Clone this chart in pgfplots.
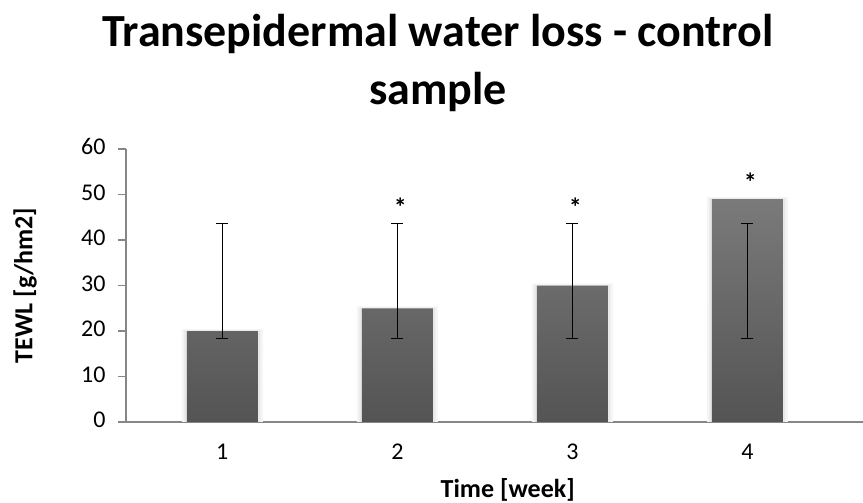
\documentclass[border=0pt]{standalone}
\usepackage{pgfplots}
\pgfplotsset{compat=1.18}
\usepackage{pgfplotstable}
\usepackage{fontspec}
\setmainfont{Carlito}

\definecolor{axisgray}{RGB}{134,134,134}
\definecolor{bartop}{RGB}{122,122,122}
\definecolor{barbot}{RGB}{84,84,84}

% week, mean TEWL
\pgfplotstableread{
week tewl
1 20
2 25
3 30
4 49
}\tewl

% error bars: every week spans 18.3 -- 43.6
\pgfplotstableread{
week mid err
1 30.95 12.65
2 30.95 12.65
3 30.95 12.65
4 30.95 12.65
}\errs

% significance marks
\pgfplotstableread{
week y
2 45.2
3 45.2
4 50.7
}\stars

\begin{document}
\begin{tikzpicture}
\begin{axis}[
    scale only axis,
    width=737pt, height=273pt,
    xmin=0.45, xmax=4.66,
    ymin=0, ymax=60,
    axis lines*=left,
    axis line style={axisgray, line width=1.5pt},
    xtick={1,2,3,4},
    ytick={0,10,...,60},
    tick align=outside,
    major tick length=8pt,
    ytick style={axisgray, line width=1.2pt},
    xtick style={draw=none},
    tick label style={font=\fontsize{24}{28}\selectfont},
    yticklabel style={xshift=-9pt},
    typeset ticklabels with strut,
    xticklabel style={yshift=-6pt},
    /pgf/number format/assume math mode=true,
    xlabel={Time [week]},
    ylabel={TEWL [g/hm2]},
    label style={font=\fontsize{26}{30}\selectfont\bfseries},
    xlabel style={at={(axis description cs:0.518,-0.276)}, anchor=base},
    ylabel style={at={(axis description cs:-0.137,0.5)}, anchor=center},
    clip=false,
]
% soft shadow behind the bars
\addplot[ybar, bar shift=0pt, bar width=81pt, fill=black!4, draw=none]
    table[x=week, y expr=\thisrow{tewl}+0.4] {\tewl};
\addplot[ybar, bar shift=0pt, bar width=76pt, fill=black!9, draw=none]
    table[x=week, y expr=\thisrow{tewl}+0.15] {\tewl};
\addplot[ybar, bar shift=0pt, bar width=71pt, draw=none,
    top color=bartop, bottom color=barbot]
    table[x=week, y=tewl] {\tewl};
\addplot[draw=none, mark=none,
    error bars/.cd, y dir=both, y explicit,
    error bar style={black, line width=1.2pt},
    error mark options={black, rotate=90, mark size=6pt, line width=1.2pt}]
    table[x=week, y=mid, y error=err] {\errs};
\addplot[draw=none, mark=none, nodes near coords={*},
    every node near coord/.style={anchor=base, inner sep=0pt, xshift=3pt,
        font=\fontsize{26}{30}\selectfont\bfseries}]
    table[x=week, y=y] {\stars};
\end{axis}
\node[font=\fontsize{46}{54}\selectfont\bfseries, anchor=base] at (312pt,375pt)
    {Transepidermal water loss - control};
\node[font=\fontsize{46}{54}\selectfont\bfseries, anchor=base] at (312pt,317pt)
    {sample};
\pgfresetboundingbox
\useasboundingbox (-126pt,-81pt) rectangle (737pt,422pt);
\end{tikzpicture}
\end{document}
